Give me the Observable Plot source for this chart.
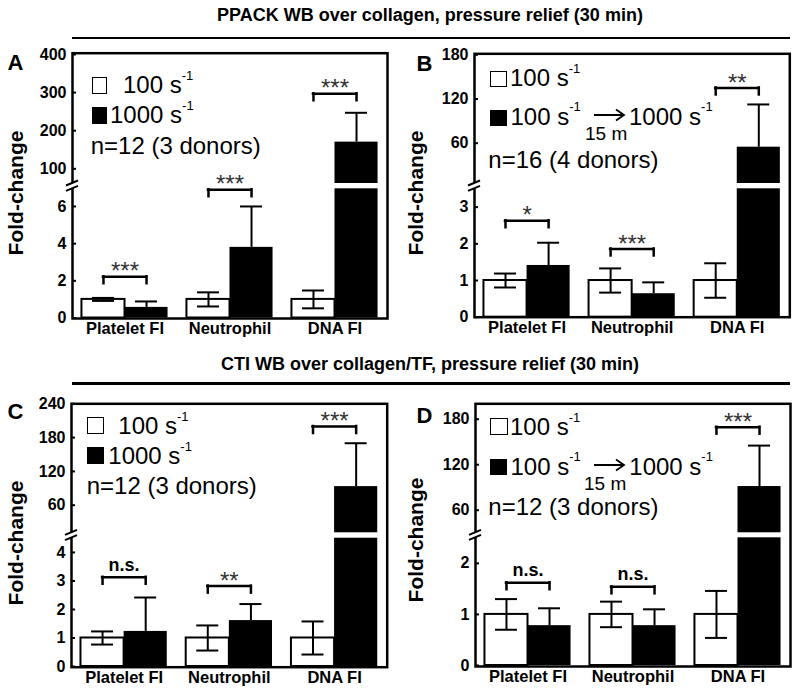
<!DOCTYPE html>
<html><head><meta charset="utf-8">
<script src="https://cdn.jsdelivr.net/npm/d3@7"></script>
<script src="https://cdn.jsdelivr.net/npm/@observablehq/plot@0.6"></script>
<style>
body{margin:0;background:#fff;}
#root{position:relative;width:800px;height:695px;overflow:hidden;font-family:"Liberation Sans",Arial,sans-serif;color:#000}
.abs{position:absolute;white-space:nowrap;line-height:1}
.sup{position:relative;font-size:13px}
</style></head><body><div id="root"></div>
<script>
// ---------- data ----------
const categories = ["Platelet FI", "Neutrophil", "DNA FI"];
const titles = ["PPACK WB over collagen, pressure relief (30 min)", "CTI WB over collagen/TF, pressure relief (30 min)"];
const panelLetters = ["A", "B", "C", "D"];
const yLabel = "Fold-change";

// Panel A
const meanA100 = [1.0, 1.0, 1.0];
const errA100 = [0.08, 0.38, 0.48];
const meanA1000 = [0.57, 3.8, 170];
const errA1000 = [0.32, 2.2, 77];
const sigA = ["***", "***", "***"];
const sigYA = [2.22, 6.9, 297];
const ticksA = [0, 2, 4, 6, 100, 200, 300, 400];

// Panel B
const meanB100 = [1.0, 1.0, 1.0];
const errB100 = [0.19, 0.33, 0.47];
const meanB1000 = [1.41, 0.64, 54.6];
const errB1000 = [0.62, 0.31, 58];
const sigB = ["*", "***", "**"];
const sigYB = [2.63, 1.86, 135];
const ticksB = [0, 1, 2, 3, 60, 120, 180];

// Panel C
const meanC100 = [1.0, 1.0, 1.0];
const errC100 = [0.23, 0.44, 0.58];
const meanC1000 = [1.23, 1.61, 93];
const errC1000 = [1.19, 0.58, 77];
const sigC = ["n.s.", "**", "***"];
const sigYC = [3.13, 2.82, 199.7];
const ticksC = [0, 1, 2, 3, 4, 60, 120, 180, 240];

// Panel D
const meanD100 = [1.0, 1.0, 1.0];
const errD100 = [0.3, 0.25, 0.46];
const meanD1000 = [0.78, 0.78, 91.2];
const errD1000 = [0.34, 0.32, 54];
const sigD = ["n.s.", "n.s.", "***"];
const sigYD = [1.62, 1.54, 169.5];
const ticksD = [0, 1, 2, 60, 120, 180];

// legend texts
const legendLow = "100 s";
const legendHigh = "1000 s";
const legendShift = "15 m";
const nA = "n=12 (3 donors)", nB = "n=16 (4 donors)", nC = "n=12 (3 donors)", nD = "n=12 (3 donors)";

// ---------- layout ----------
const FONT = "Liberation Sans, Arial, sans-serif";
const layouts = [
  {svgLeft: 0, svgTop: 40, svgW: 400, svgH: 305, frame: {left: 72, right: 387, top: 52.7, bottom: 318},
   yDomain: [0, 6.95, 61.4, 400], yRange: [317.5, 188.3, 183, 54]},
  {svgLeft: 400, svgTop: 40, svgW: 400, svgH: 305, frame: {left: 474, right: 789.3, top: 53.3, bottom: 316.7},
   yDomain: [0, 3.5, 5.3, 180], yRange: [316.7, 188.3, 183, 54.3]},
  {svgLeft: 0, svgTop: 385, svgW: 400, svgH: 310, frame: {left: 71, right: 386.7, top: 403.3, bottom: 666.7},
   yDomain: [0, 4.5, 11, 240], yRange: [666, 537.7, 532.3, 403.3]},
  {svgLeft: 400, svgTop: 385, svgW: 400, svgH: 310, frame: {left: 475, right: 790, top: 403.3, bottom: 666},
   yDomain: [0, 2.5, 30.2, 180], yRange: [665, 537.3, 532.3, 418.7]}
];
const panelsData = [
  {m0: meanA100, e0: errA100, m1: meanA1000, e1: errA1000, sig: sigA, sigY: sigYA, ticks: ticksA},
  {m0: meanB100, e0: errB100, m1: meanB1000, e1: errB1000, sig: sigB, sigY: sigYB, ticks: ticksB},
  {m0: meanC100, e0: errC100, m1: meanC1000, e1: errC1000, sig: sigC, sigY: sigYC, ticks: ticksC},
  {m0: meanD100, e0: errD100, m1: meanD1000, e1: errD1000, sig: sigD, sigY: sigYD, ticks: ticksD}
];

const root = document.getElementById("root");

function makePanel(d, lay) {
  const {svgLeft, svgTop, svgW: W, svgH: H, frame} = lay;
  const ml = frame.left - svgLeft, mr = svgLeft + W - frame.right;
  const mt = frame.top - svgTop, mb = svgTop + H - frame.bottom;
  const yRange = lay.yRange.map(v => v - svgTop);
  const yS = d3.scaleLinear(lay.yDomain, yRange);
  const L = lay.yDomain[1], U = lay.yDomain[2];
  const pi = 0.18, po = 0.09;
  const fw = W - ml - mr;
  const bw = fw / (categories.length - pi + 2 * po) * (1 - pi);
  const q = bw / 4, cap = 11;
  const rows = categories.map((cat, i) => ({cat, m0: d.m0[i], e0: d.e0[i], m1: d.m1[i], e1: d.e1[i], sig: d.sig[i], sy: d.sigY[i]}));
  const stars = rows.filter(r => r.sig.includes("*"));
  const ns = rows.filter(r => !r.sig.includes("*"));
  const broken = rows.filter(r => r.m1 > U);
  const legEnd = r => yS.invert(yS(r.sy) + 7);
  const breakMark = () => {
    const g = d3.create("svg:g");
    const y1 = yS(U), y2 = yS(L);
    g.append("rect").attr("x", ml - 3).attr("y", y1).attr("width", 6).attr("height", y2 - y1).attr("fill", "white");
    for (const yy of [y1, y2]) {
      g.append("line").attr("x1", ml - 6).attr("y1", yy + 2.5).attr("x2", ml + 6).attr("y2", yy - 2.5)
        .attr("stroke", "black").attr("stroke-width", 2);
    }
    return g.node();
  };
  const sw = 2;
  return Plot.plot({
    width: W, height: H, marginLeft: ml, marginRight: mr, marginTop: mt, marginBottom: mb,
    style: {fontFamily: FONT, fontSize: "16px", background: "transparent", overflow: "visible"},
    x: {type: "band", domain: categories, paddingInner: pi, paddingOuter: po, align: 0.5, round: false},
    y: {type: "linear", domain: lay.yDomain, range: yRange},
    marks: [
      Plot.barY(rows, {x: "cat", y: "m0", fill: "white", stroke: "black", strokeWidth: sw, insetRight: bw / 2}),
      Plot.barY(rows, {x: "cat", y: "m1", fill: "black", insetLeft: bw / 2}),
      Plot.barY(broken, {x: "cat", y1: () => L, y2: () => U, fill: "white", insetLeft: bw / 2 - 0.5, insetRight: -0.5}),
      Plot.ruleX(rows, {x: "cat", y1: r => r.m0 - r.e0, y2: r => r.m0 + r.e0, dx: -q, strokeWidth: sw}),
      Plot.ruleX(rows, {x: "cat", y1: "m1", y2: r => r.m1 + r.e1, dx: q, strokeWidth: sw}),
      Plot.tickY(rows, {x: "cat", y: r => r.m0 + r.e0, insetLeft: q - cap, insetRight: 3 * q - cap, strokeWidth: sw}),
      Plot.tickY(rows, {x: "cat", y: r => r.m0 - r.e0, insetLeft: q - cap, insetRight: 3 * q - cap, strokeWidth: sw}),
      Plot.tickY(rows, {x: "cat", y: r => r.m1 + r.e1, insetLeft: 3 * q - cap, insetRight: q - cap, strokeWidth: sw}),
      Plot.tickY(rows, {x: "cat", y: "sy", insetLeft: q, insetRight: q, strokeWidth: 2.5, strokeLinecap: "square"}),
      Plot.ruleX(rows, {x: "cat", y1: "sy", y2: legEnd, dx: -q, strokeWidth: 2.5, strokeLinecap: "square"}),
      Plot.ruleX(rows, {x: "cat", y1: "sy", y2: legEnd, dx: q, strokeWidth: 2.5, strokeLinecap: "square"}),
      Plot.text(stars, {x: "cat", y: "sy", text: "sig", dy: -5, fontSize: 24, fill: "#333"}),
      Plot.text(ns, {x: "cat", y: "sy", text: "sig", dy: -12.5, fontSize: 18, fontWeight: "bold"}),
      Plot.frame({stroke: "black", strokeWidth: 2.5}),
      Plot.ruleY(d.ticks, {insetRight: fw - 4, strokeWidth: 2}),
      breakMark,
      Plot.axisY(d.ticks, {tickSize: 0, tickPadding: 6, fontSize: 16, fontWeight: "bold", label: null}),
      Plot.axisX({tickSize: 0, tickPadding: 4, fontSize: 16.5, fontWeight: "bold", label: null})
    ]
  });
}

layouts.forEach((lay, i) => {
  const el = makePanel(panelsData[i], lay);
  const wrap = document.createElement("div");
  wrap.className = "abs";
  wrap.style.left = lay.svgLeft + "px";
  wrap.style.top = lay.svgTop + "px";
  wrap.appendChild(el);
  root.appendChild(wrap);
});

// ---------- html text helpers ----------
function txt(x, base, html, fs, weight, align) {
  const e = document.createElement("div");
  e.className = "abs";
  e.style.fontSize = fs + "px";
  e.style.fontWeight = weight || "normal";
  e.style.top = (base - 0.8465 * fs) + "px";
  if (align === "center") {
    e.style.left = (x - 400) + "px"; e.style.width = "800px"; e.style.textAlign = "center";
  } else e.style.left = x + "px";
  e.innerHTML = html;
  root.appendChild(e);
  return e;
}
function box(x, y, w, h, style) {
  const e = document.createElement("div");
  e.className = "abs";
  Object.assign(e.style, {left: x + "px", top: y + "px", width: w + "px", height: h + "px", boxSizing: "border-box"}, style);
  root.appendChild(e);
}
const sup = (s, off) => `${s}<span class="sup" style="top:${off}px">-1</span>`;
function arrow(x, y, w) {
  const ns = "http://www.w3.org/2000/svg";
  const s = document.createElementNS(ns, "svg");
  s.setAttribute("width", w + 2); s.setAttribute("height", 14);
  s.style.position = "absolute"; s.style.left = x + "px"; s.style.top = (y - 7) + "px";
  s.innerHTML = `<path d="M0,7H${w}M${w - 8},1.5L${w},7L${w - 8},12.5" fill="none" stroke="black" stroke-width="1.8"/>`;
  root.appendChild(s);
}
function rotLabel(cx, cy, text) {
  const e = document.createElement("div");
  e.className = "abs";
  Object.assign(e.style, {left: (cx - 100) + "px", top: (cy - 11) + "px", width: "200px", height: "22px",
    textAlign: "center", fontSize: "21px", fontWeight: "bold", transform: "rotate(-90deg)"});
  e.textContent = text;
  root.appendChild(e);
}

// titles & rules
txt(430, 21.7, titles[0], 18, "bold", "center");
box(72, 36.5, 718, 2.5, {background: "black"});
txt(430, 370.7, titles[1], 18, "bold", "center");
box(72, 382.3, 718, 2.5, {background: "black"});

// panel letters
txt(7.5, 70.7, panelLetters[0], 22, "bold");
txt(416.5, 71.7, panelLetters[1], 22, "bold");
txt(7.5, 420, panelLetters[2], 22, "bold");
txt(416.5, 423.3, panelLetters[3], 22, "bold");

// y labels
rotLabel(16, 193, yLabel);
rotLabel(416, 193, yLabel);
rotLabel(16, 543, yLabel);
rotLabel(416, 540, yLabel);

const white = {background: "white", border: "1.5px solid black"};
const black = {background: "black"};
// legend A
box(91.7, 77, 15.5, 16.5, white);
txt(123, 93.3, sup(legendLow, -13), 24);
box(91.7, 107, 15.5, 16.5, black);
txt(110, 123.5, sup(legendHigh, -13), 24);
txt(90.7, 154.5, nA, 24);
// legend B
box(490, 70.5, 16.5, 16.5, white);
txt(510, 86.7, sup(legendLow, -13), 24);
box(490, 109.5, 17, 16, black);
txt(510.5, 125.5, sup(legendLow, -14), 24);
arrow(594, 115, 30);
txt(585, 140, legendShift, 19);
txt(629, 125.5, sup(legendHigh, -14), 24);
txt(488.3, 168.5, nB, 24);
// legend C
box(87.3, 417.3, 16.7, 16.7, white);
txt(118.3, 434, sup(legendLow, -13), 24);
box(87.3, 447.3, 17, 16.7, black);
txt(108.3, 464, sup(legendHigh, -13), 24);
txt(86.7, 494, nC, 24);
// legend D
box(490, 418, 17.5, 17, white);
txt(510, 435, sup(legendLow, -13), 24);
box(490, 459, 17, 16, black);
txt(510.5, 475, sup(legendLow, -14), 24);
arrow(594, 465, 30);
txt(584, 490, legendShift, 19);
txt(629.3, 475, sup(legendHigh, -14), 24);
txt(488.3, 515.5, nD, 24);
</script></body></html>
